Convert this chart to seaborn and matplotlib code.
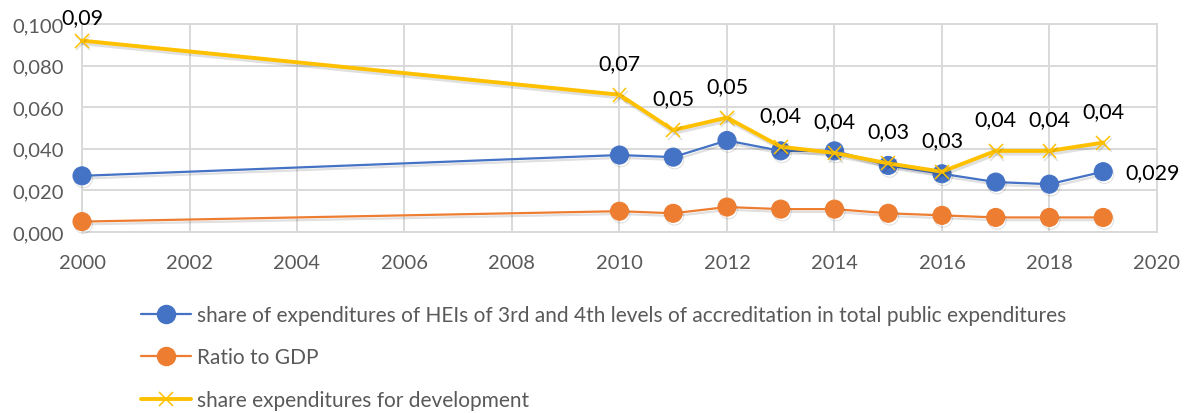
import numpy as np
import pandas as pd
import matplotlib
matplotlib.use("Agg")
import matplotlib.pyplot as plt
import matplotlib.patheffects as pe
from matplotlib.ticker import FuncFormatter, MultipleLocator
import seaborn as sns

years = [2000, 2010, 2011, 2012, 2013, 2014, 2015, 2016, 2017, 2018, 2019]
share_hei = [0.027, 0.037, 0.036, 0.044, 0.039, 0.039, 0.032, 0.028, 0.024, 0.023, 0.029]
ratio_gdp = [0.005, 0.010, 0.009, 0.012, 0.011, 0.011, 0.009, 0.008, 0.007, 0.007, 0.007]
share_dev = [0.092, 0.066, 0.049, 0.055, 0.041, 0.038, 0.033, 0.029, 0.039, 0.039, 0.043]
dev_labels = ["0,09", "0,07", "0,05", "0,05", "0,04", "0,04", "0,03", "0,03", "0,04", "0,04", "0,04"]
hei_last_label = "0,029"

names = [
    "share of expenditures of HEIs of 3rd and 4th levels of accreditation in total public expenditures",
    "Ratio to GDP",
    "share expenditures for development",
]
colors = ["#4472C4", "#ED7D31", "#FFC000"]

df = pd.DataFrame({
    "year": years * 3,
    "value": share_hei + ratio_gdp + share_dev,
    "series": [names[0]] * len(years) + [names[1]] * len(years) + [names[2]] * len(years),
})

sns.set_theme(style="white")
plt.rcParams["font.family"] = ["Lato", "DejaVu Sans"]

fig = plt.figure(figsize=(11.92, 4.14), dpi=100)
ax = fig.add_axes([0.0688, 0.4372, 0.9018, 0.5024])

shadow = [pe.SimpleLineShadow(offset=(1.0, -2.0), alpha=0.12, shadow_color="black"), pe.Normal()]

sns.lineplot(data=df, x="year", y="value", hue="series", style="series",
             palette=colors, markers=["o", "o", "X"], dashes=False,
             hue_order=names, style_order=names, ax=ax, legend=False)

lines = ax.get_lines()
for ln, c, nm in zip(lines, colors, names):
    if nm == names[2]:
        ln.set_linewidth(2.8)
        ln.set_marker("x")
        ln.set_markersize(10)
        ln.set_markeredgewidth(1.1)
        ln.set_markeredgecolor(c)
        ln.set_zorder(4)
    else:
        ln.set_linewidth(1.6)
        ln.set_marker("o")
        ln.set_markersize(13)
        ln.set_markeredgecolor(c)
        ln.set_markerfacecolor(c)
        ln.set_zorder(3)
    ln.set_path_effects(shadow)
    ln.set_clip_on(False)

ax.set_xlim(2000, 2020)
ax.set_ylim(0, 0.1)
ax.xaxis.set_major_locator(MultipleLocator(2))
ax.yaxis.set_major_locator(MultipleLocator(0.02))
ax.yaxis.set_major_formatter(FuncFormatter(lambda v, p: f"{v:.3f}".replace(".", ",")))
ax.grid(True, color="#D9D9D9", linewidth=1.4)
ax.set_axisbelow(True)
for s in ax.spines.values():
    s.set_color("#D9D9D9")
    s.set_linewidth(1.4)
ax.tick_params(axis="both", labelsize=14.5, colors="#595959", length=0)
ax.tick_params(axis="x", pad=16)
ax.tick_params(axis="y", pad=13)
ax.set_xlabel("")
ax.set_ylabel("")

for i, (x, y, t) in enumerate(zip(years, share_dev, dev_labels)):
    dy = 17 if i == 0 else 23
    ax.annotate(t, (x, y), xytext=(0, dy), textcoords="offset points",
                ha="center", va="center", fontsize=15.5, color="black")
ax.annotate(hei_last_label, (years[-1], share_hei[-1]), xytext=(16, 0),
            textcoords="offset points", ha="left", va="center",
            fontsize=15.5, color="black")

handles = []
for c, nm in zip(colors, names):
    if nm == names[2]:
        h = plt.Line2D([], [], color=c, lw=2.8, marker="x", markersize=10, markeredgewidth=1.1)
    else:
        h = plt.Line2D([], [], color=c, lw=1.6, marker="o", markersize=13)
    handles.append(h)
leg = fig.legend(handles, names, loc="upper left", bbox_to_anchor=(0.1113, 0.281),
                 ncol=1, frameon=False, fontsize=15, labelspacing=1.08,
                 handlelength=2.4, handletextpad=0.3, borderaxespad=0)
for t in leg.get_texts():
    t.set_color("#595959")

fig.savefig("out.png", dpi=100)
